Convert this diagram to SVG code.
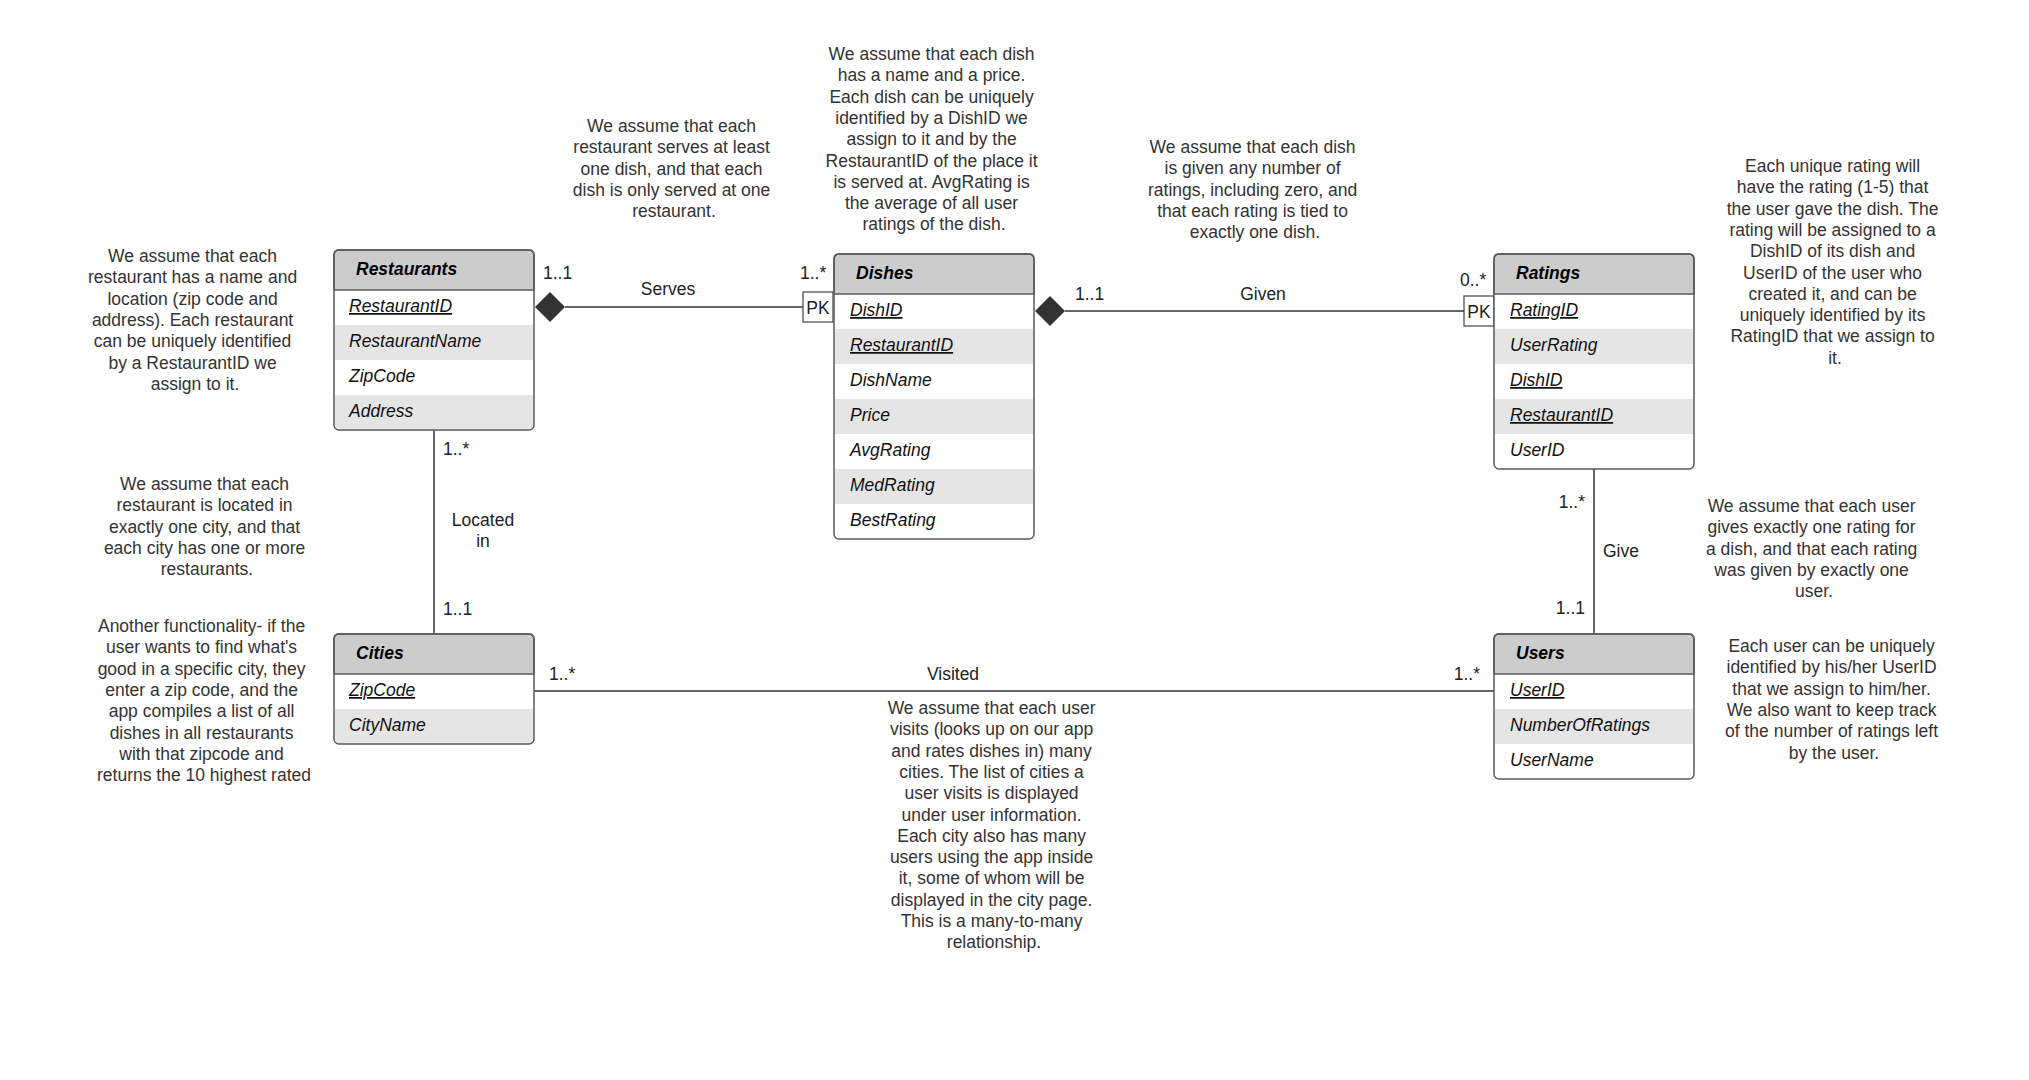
<svg xmlns="http://www.w3.org/2000/svg" width="2029" height="1080" viewBox="0 0 2029 1080">
  <style>
    text { font-family: "Liberation Sans", Arial, sans-serif; font-size: 17.5px; }
    .box { fill: none; stroke: #5a5a5a; stroke-width: 1.5; }
    .body { fill: #ffffff; }
    .hdr { fill: #cccccc; stroke: #5a5a5a; stroke-width: 1.5; }
    .alt { fill: #e5e5e5; }
    .ttl { font-weight: bold; font-style: italic; fill: #000; }
    .att { font-style: italic; fill: #111; }
    .key { text-decoration: underline; }
    .note { fill: #333; text-anchor: middle; }
    .lbl { fill: #222; }
    .end { text-anchor: end; }
    .mid { text-anchor: middle; }
    .wire { stroke: #333; stroke-width: 1.5; fill: none; }
    .dia { fill: #333; }
    .pk { fill: #fff; stroke: #444; stroke-width: 1.2; }
  </style>

  <rect width="2029" height="1080" fill="#ffffff"/>

  <!-- connectors -->
  <g id="connectors">
    <!-- Restaurants - Dishes -->
    <line class="wire" x1="565" y1="307" x2="803" y2="307"/>
    <polygon class="dia" points="535,307 550,292 565,307 550,322"/>
    <rect class="pk" x="803" y="292" width="30" height="30"/>
    <text class="lbl mid" x="818" y="314">PK</text>
    <text class="lbl" x="543" y="279">1..1</text>
    <text class="lbl mid" x="668" y="295">Serves</text>
    <text class="lbl" x="800" y="279">1..*</text>

    <!-- Dishes - Ratings -->
    <line class="wire" x1="1065" y1="311" x2="1464" y2="311"/>
    <polygon class="dia" points="1035,311 1050,296 1065,311 1050,326"/>
    <rect class="pk" x="1464" y="296" width="30" height="30"/>
    <text class="lbl mid" x="1479" y="318">PK</text>
    <text class="lbl" x="1075" y="300">1..1</text>
    <text class="lbl mid" x="1263" y="300">Given</text>
    <text class="lbl" x="1460" y="286">0..*</text>

    <!-- Restaurants - Cities -->
    <line class="wire" x1="434" y1="430" x2="434" y2="634"/>
    <text class="lbl" x="443" y="455">1..*</text>
    <text class="lbl mid" x="483" y="526">Located</text>
    <text class="lbl mid" x="483" y="547">in</text>
    <text class="lbl" x="443" y="615">1..1</text>

    <!-- Ratings - Users -->
    <line class="wire" x1="1594" y1="469" x2="1594" y2="634"/>
    <text class="lbl end" x="1585" y="508">1..*</text>
    <text class="lbl" x="1603" y="557">Give</text>
    <text class="lbl end" x="1585" y="614">1..1</text>

    <!-- Cities - Users -->
    <line class="wire" x1="534" y1="691" x2="1494" y2="691"/>
    <text class="lbl" x="549" y="680">1..*</text>
    <text class="lbl mid" x="953" y="680">Visited</text>
    <text class="lbl end" x="1480" y="680">1..*</text>
  </g>

  <!-- Restaurants -->
  <g id="restaurants">
    <rect class="body" x="334" y="250" width="200" height="180" rx="5"/>
    <rect class="alt" x="335" y="325" width="198" height="35"/>
    <path class="alt" d="M335,395 H533 V424 Q533,429 528,429 H340 Q335,429 335,424 Z"/>
    <path class="hdr" d="M334,290 V255 Q334,250 339,250 H529 Q534,250 534,255 V290 Z"/>
    <rect class="box" x="334" y="250" width="200" height="180" rx="5"/>
    <text class="ttl" x="356" y="275">Restaurants</text>
    <text class="att key" x="349" y="312">RestaurantID</text>
    <text class="att" x="349" y="347">RestaurantName</text>
    <text class="att" x="349" y="382">ZipCode</text>
    <text class="att" x="349" y="417">Address</text>
  </g>

  <!-- Dishes -->
  <g id="dishes">
    <rect class="body" x="834" y="254" width="200" height="285" rx="5"/>
    <rect class="alt" x="835" y="329" width="198" height="35"/>
    <rect class="alt" x="835" y="399" width="198" height="35"/>
    <rect class="alt" x="835" y="469" width="198" height="35"/>
    <path class="hdr" d="M834,294 V259 Q834,254 839,254 H1029 Q1034,254 1034,259 V294 Z"/>
    <rect class="box" x="834" y="254" width="200" height="285" rx="5"/>
    <text class="ttl" x="856" y="279">Dishes</text>
    <text class="att key" x="850" y="316">DishID</text>
    <text class="att key" x="850" y="351">RestaurantID</text>
    <text class="att" x="850" y="386">DishName</text>
    <text class="att" x="850" y="421">Price</text>
    <text class="att" x="850" y="456">AvgRating</text>
    <text class="att" x="850" y="491">MedRating</text>
    <text class="att" x="850" y="526">BestRating</text>
  </g>

  <!-- Ratings -->
  <g id="ratings">
    <rect class="body" x="1494" y="254" width="200" height="215" rx="5"/>
    <rect class="alt" x="1495" y="329" width="198" height="35"/>
    <rect class="alt" x="1495" y="399" width="198" height="35"/>
    <path class="hdr" d="M1494,294 V259 Q1494,254 1499,254 H1689 Q1694,254 1694,259 V294 Z"/>
    <rect class="box" x="1494" y="254" width="200" height="215" rx="5"/>
    <text class="ttl" x="1516" y="279">Ratings</text>
    <text class="att key" x="1510" y="316">RatingID</text>
    <text class="att" x="1510" y="351">UserRating</text>
    <text class="att key" x="1510" y="386">DishID</text>
    <text class="att key" x="1510" y="421">RestaurantID</text>
    <text class="att" x="1510" y="456">UserID</text>
  </g>

  <!-- Cities -->
  <g id="cities">
    <rect class="body" x="334" y="634" width="200" height="110" rx="5"/>
    <path class="alt" d="M335,709 H533 V738 Q533,743 528,743 H340 Q335,743 335,738 Z"/>
    <path class="hdr" d="M334,674 V639 Q334,634 339,634 H529 Q534,634 534,639 V674 Z"/>
    <rect class="box" x="334" y="634" width="200" height="110" rx="5"/>
    <text class="ttl" x="356" y="659">Cities</text>
    <text class="att key" x="349" y="696">ZipCode</text>
    <text class="att" x="349" y="731">CityName</text>
  </g>

  <!-- Users -->
  <g id="users">
    <rect class="body" x="1494" y="634" width="200" height="145" rx="5"/>
    <rect class="alt" x="1495" y="709" width="198" height="35"/>
    <path class="hdr" d="M1494,674 V639 Q1494,634 1499,634 H1689 Q1694,634 1694,639 V674 Z"/>
    <rect class="box" x="1494" y="634" width="200" height="145" rx="5"/>
    <text class="ttl" x="1516" y="659">Users</text>
    <text class="att key" x="1510" y="696">UserID</text>
    <text class="att" x="1510" y="731">NumberOfRatings</text>
    <text class="att" x="1510" y="766">UserName</text>
  </g>

  <!-- notes -->
  <g id="note-restaurant">
    <text class="note" x="195" y="262">
      <tspan x="195">We assume that each</tspan>
      <tspan x="195" dy="21.3">restaurant has a name and</tspan>
      <tspan x="195" dy="21.3">location (zip code and</tspan>
      <tspan x="195" dy="21.3">address). Each restaurant</tspan>
      <tspan x="195" dy="21.3">can be uniquely identified</tspan>
      <tspan x="195" dy="21.3">by a RestaurantID we</tspan>
      <tspan x="195" dy="21.3">assign to it.</tspan>
    </text>
  </g>

  <g id="note-located">
    <text class="note" x="207" y="490">
      <tspan x="207">We assume that each</tspan>
      <tspan x="207" dy="21.3">restaurant is located in</tspan>
      <tspan x="207" dy="21.3">exactly one city, and that</tspan>
      <tspan x="207" dy="21.3">each city has one or more</tspan>
      <tspan x="207" dy="21.3">restaurants.</tspan>
    </text>
  </g>

  <g id="note-zip-search">
    <text class="note" x="204" y="632">
      <tspan x="204">Another functionality- if the</tspan>
      <tspan x="204" dy="21.3">user wants to find what's</tspan>
      <tspan x="204" dy="21.3">good in a specific city, they</tspan>
      <tspan x="204" dy="21.3">enter a zip code, and the</tspan>
      <tspan x="204" dy="21.3">app compiles a list of all</tspan>
      <tspan x="204" dy="21.3">dishes in all restaurants</tspan>
      <tspan x="204" dy="21.3">with that zipcode and</tspan>
      <tspan x="204" dy="21.3">returns the 10 highest rated</tspan>
    </text>
  </g>

  <g id="note-serves">
    <text class="note" x="674" y="132">
      <tspan x="674">We assume that each</tspan>
      <tspan x="674" dy="21.3">restaurant serves at least</tspan>
      <tspan x="674" dy="21.3">one dish, and that each</tspan>
      <tspan x="674" dy="21.3">dish is only served at one</tspan>
      <tspan x="674" dy="21.3">restaurant.</tspan>
    </text>
  </g>

  <g id="note-dish">
    <text class="note" x="934" y="60">
      <tspan x="934">We assume that each dish</tspan>
      <tspan x="934" dy="21.3">has a name and a price.</tspan>
      <tspan x="934" dy="21.3">Each dish can be uniquely</tspan>
      <tspan x="934" dy="21.3">identified by a DishID we</tspan>
      <tspan x="934" dy="21.3">assign to it and by the</tspan>
      <tspan x="934" dy="21.3">RestaurantID of the place it</tspan>
      <tspan x="934" dy="21.3">is served at. AvgRating is</tspan>
      <tspan x="934" dy="21.3">the average of all user</tspan>
      <tspan x="934" dy="21.3">ratings of the dish.</tspan>
    </text>
  </g>

  <g id="note-given">
    <text class="note" x="1255" y="153">
      <tspan x="1255">We assume that each dish</tspan>
      <tspan x="1255" dy="21.3">is given any number of</tspan>
      <tspan x="1255" dy="21.3">ratings, including zero, and</tspan>
      <tspan x="1255" dy="21.3">that each rating is tied to</tspan>
      <tspan x="1255" dy="21.3">exactly one dish.</tspan>
    </text>
  </g>

  <g id="note-rating">
    <text class="note" x="1835" y="172">
      <tspan x="1835">Each unique rating will</tspan>
      <tspan x="1835" dy="21.3">have the rating (1-5) that</tspan>
      <tspan x="1835" dy="21.3">the user gave the dish. The</tspan>
      <tspan x="1835" dy="21.3">rating will be assigned to a</tspan>
      <tspan x="1835" dy="21.3">DishID of its dish and</tspan>
      <tspan x="1835" dy="21.3">UserID of the user who</tspan>
      <tspan x="1835" dy="21.3">created it, and can be</tspan>
      <tspan x="1835" dy="21.3">uniquely identified by its</tspan>
      <tspan x="1835" dy="21.3">RatingID that we assign to</tspan>
      <tspan x="1835" dy="21.3">it.</tspan>
    </text>
  </g>

  <g id="note-give">
    <text class="note" x="1814" y="512">
      <tspan x="1814">We assume that each user</tspan>
      <tspan x="1814" dy="21.3">gives exactly one rating for</tspan>
      <tspan x="1814" dy="21.3">a dish, and that each rating</tspan>
      <tspan x="1814" dy="21.3">was given by exactly one</tspan>
      <tspan x="1814" dy="21.3">user.</tspan>
    </text>
  </g>

  <g id="note-user">
    <text class="note" x="1834" y="652">
      <tspan x="1834">Each user can be uniquely</tspan>
      <tspan x="1834" dy="21.3">identified by his/her UserID</tspan>
      <tspan x="1834" dy="21.3">that we assign to him/her.</tspan>
      <tspan x="1834" dy="21.3">We also want to keep track</tspan>
      <tspan x="1834" dy="21.3">of the number of ratings left</tspan>
      <tspan x="1834" dy="21.3">by the user.</tspan>
    </text>
  </g>

  <g id="note-visited">
    <text class="note" x="994" y="714">
      <tspan x="994">We assume that each user</tspan>
      <tspan x="994" dy="21.3">visits (looks up on our app</tspan>
      <tspan x="994" dy="21.3">and rates dishes in) many</tspan>
      <tspan x="994" dy="21.3">cities. The list of cities a</tspan>
      <tspan x="994" dy="21.3">user visits is displayed</tspan>
      <tspan x="994" dy="21.3">under user information.</tspan>
      <tspan x="994" dy="21.3">Each city also has many</tspan>
      <tspan x="994" dy="21.3">users using the app inside</tspan>
      <tspan x="994" dy="21.3">it, some of whom will be</tspan>
      <tspan x="994" dy="21.3">displayed in the city page.</tspan>
      <tspan x="994" dy="21.3">This is a many-to-many</tspan>
      <tspan x="994" dy="21.3">relationship.</tspan>
    </text>
  </g>
</svg>
